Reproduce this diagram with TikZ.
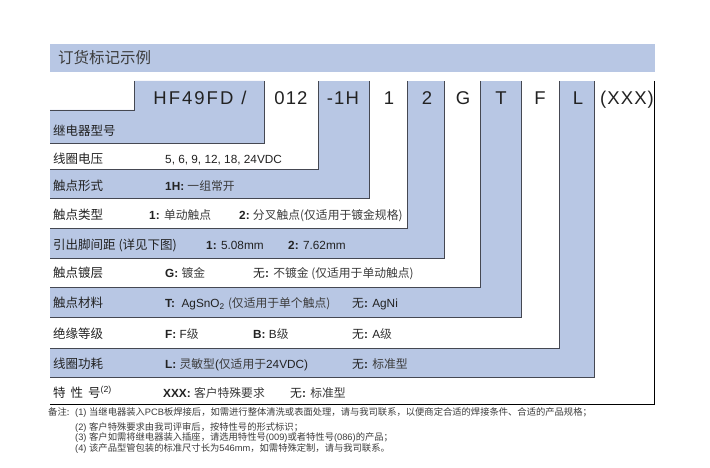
\documentclass[tikz,border=0pt]{standalone}
\usepackage{fontspec}
\setmainfont{Liberation Sans}
\newfontfamily\cjk{Noto Sans CJK SC}
\newcommand\ZH[1]{{\cjk #1}}
\newcommand\ZS[1]{{\cjk\color{soft}#1}}
\definecolor{rowblue}{HTML}{B8C7E4}
\definecolor{edge}{HTML}{454852}
\definecolor{ink}{HTML}{222222}
\definecolor{soft}{HTML}{3C3C3C}
\begin{document}
\begin{tikzpicture}[x=1pt,y=-1pt,
  hdr/.style={font=\cjk\fontsize{15.5}{18}\selectfont, text=soft, anchor=west, inner sep=0},
  code/.style={font=\fontsize{18.5}{20}\selectfont\addfontfeature{LetterSpace=6}, text=ink, anchor=base, inner sep=0},
  lbl/.style={font=\cjk\fontsize{12.5}{15}\selectfont, text=ink, anchor=base west, inner sep=0},
  desc/.style={font=\fontsize{11.8}{14}\selectfont, text=ink, anchor=base west, inner sep=0},
  note/.style={font=\fontsize{9.3}{10}\selectfont, text=soft, anchor=base west, inner sep=0},
  edgeline/.style={draw=edge, line width=0.9pt}]
\useasboundingbox (0,0) rectangle (710,468);
\fill[white] (0,0) rectangle (710,468);
% header bar
\fill[rowblue] (50,44) rectangle (655,72);
\node[hdr] (title) at (58,58) {订货标记示例};
% nested boxes
\foreach \r/\b/\c/\e in {654/404/white/black, 594/377/rowblue/edge, 559/348/white/edge,
  521/317/rowblue/edge, 480/287/white/edge, 444/258/rowblue/edge, 407/228/white/edge,
  369/198/rowblue/edge, 318/169/white/edge}{
  \fill[\c] (50,81) rectangle (\r,\b);
  \draw[line width=0.9pt, draw=\e] (\r,81) -- (\r,\b) -- (50,\b);
}
\fill[rowblue] (134,81) -- (264,81) -- (264,143) -- (50,143) -- (50,110) -- (134,110) -- cycle;
\draw[edgeline] (264,81) -- (264,143) -- (50,143);
\draw[edgeline] (50,110) -- (134,110) -- (134,81);
% codes
\node[code] (cHF) at (200,104.5) {{\addfontfeature{LetterSpace=11}HF49FD}\hspace{8pt}/};
\node[code] (c012) at (291,104.5) {012};
\node[code] (c1H) at (343,104.5) {-1H};
\node[code] (c1) at (389,104.5) {1};
\node[code] (c2) at (427,104.5) {2};
\node[code] (cG) at (463,104.5) {G};
\node[code] (cT) at (501,104.5) {T};
\node[code] (cF) at (540,104.5) {F};
\node[code] (cL) at (578,104.5) {L};
\node[code] (cX) at (627,104.5) {(XXX)};
% rows
\node[lbl] (l1) at (53,135.5) {继电器型号};
\node[lbl] (l2) at (53,163.5) {线圈电压};
\node[desc] (d2) at (165,163.5) {5, 6, 9, 12, 18, 24VDC};
\node[lbl] (l3) at (53,191) {触点形式};
\node[desc] (d3) at (165,191) {\textbf{1H:} \ZS{一组常开}};
\node[lbl] (l4) at (53,219) {触点类型};
\node[desc] (d4a) at (149,219) {\textbf{1:} \ZS{单动触点}};
\node[desc] (d4b) at (239,219) {\textbf{2:}\ \ZS{分叉触点(仅适用于镀金规格)}};
\node[lbl] (l5) at (53,249.5) {引出脚间距 (详见下图)};
\node[desc] (d5a) at (206,249.5) {\textbf{1:} 5.08mm};
\node[desc] (d5b) at (288,249.5) {\textbf{2:} 7.62mm};
\node[lbl] (l6) at (53,277) {触点镀层};
\node[desc] (d6a) at (165,277) {\textbf{G:} \ZS{镀金}};
\node[desc] (d6b) at (253,277) {\ZH{无}\textbf{:} \ZS{不镀金 (仅适用于单动触点)}};
\node[lbl] (l7) at (53,307.5) {触点材料};
\node[desc] (d7a) at (165,307.5) {\textbf{T:}\ \ AgSnO\textsubscript{2} \ZS{(仅适用于单个触点)}};
\node[desc] (d7b) at (352,307.5) {\ZH{无}\textbf{:} AgNi};
\node[lbl] (l8) at (53,338.5) {绝缘等级};
\node[desc] (d8a) at (165,338.5) {\textbf{F:} F\ZS{级}};
\node[desc] (d8b) at (253,338.5) {\textbf{B:} B\ZS{级}};
\node[desc] (d8c) at (352,338.5) {\ZH{无}\textbf{:} A\ZS{级}};
\node[lbl] (l9) at (53,368.5) {线圈功耗};
\node[desc] (d9a) at (165,368.5) {\textbf{L:} \ZS{灵敏型}(\ZS{仅适用于}24VDC)};
\node[desc] (d9b) at (352,368.5) {\ZH{无}\textbf{:} \ZS{标准型}};
\node[lbl] (l10) at (53,397) {特\hspace{5pt}性\hspace{5pt}号{\rmfamily\textsuperscript{(2)}}};
\node[desc] (d10a) at (163,397) {\textbf{XXX:} \ZS{客户特殊要求}};
\node[desc] (d10b) at (290,397) {\ZH{无}\textbf{:} \ZS{标准型}};
% notes
\node[note] (n0) at (48,415.5) {\ZH{备注:}};
\node[note] (n1) at (75,415.5) {(1) \ZH{当继电器装入}PCB\ZH{板焊接后，如需进行整体清洗或表面处理，请与我司联系，以便商定合适的焊接条件、合适的产品规格；}};
\node[note] (n2) at (75,430) {(2) \ZH{客户特殊要求由我司评审后，按特性号的形式标识；}};
\node[note] (n3) at (75,440.5) {(3) \ZH{客户如需将继电器装入插座，请选用特性号}(009)\ZH{或者特性号}(086)\ZH{的产品；}};
\node[note] (n4) at (75,451) {(4) \ZH{该产品型管包装的标准尺寸长为}546mm\ZH{，如需特殊定制，请与我司联系。}};
\end{tikzpicture}
\end{document}
